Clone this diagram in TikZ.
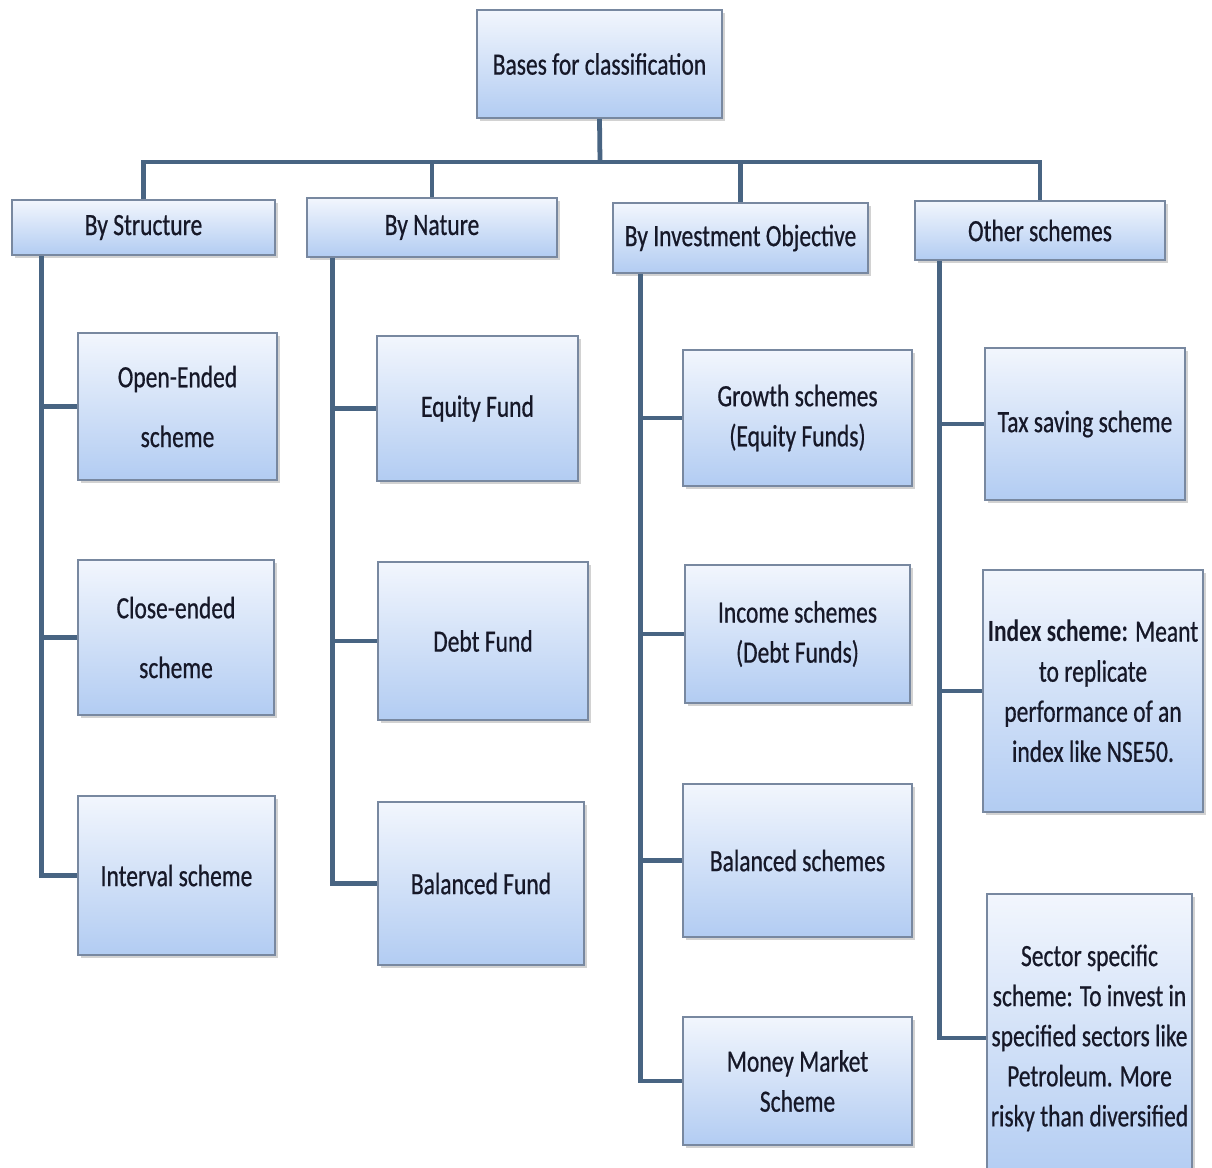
\documentclass[tikz,border=0pt]{standalone}
\usepackage{fontspec}
\setmainfont{Carlito}[FakeStretch=0.76, UprightFeatures={FakeBold=0.6}]
\usepackage{tikz}
\usetikzlibrary{shadows}
\definecolor{slateline}{RGB}{72, 100, 130}
\definecolor{boxedge}{RGB}{120, 136, 160}
\definecolor{boxtop}{RGB}{242, 246, 253}
\definecolor{boxbottom}{RGB}{178, 204, 242}
\definecolor{inkdark}{RGB}{22, 24, 40}

\begin{document}
\begin{tikzpicture}[x=0.025cm, y=-0.025cm,
    box/.style={draw=boxedge, line width=1.2pt, top color=boxtop, bottom color=boxbottom,
                drop shadow={opacity=0.35, shadow xshift=2pt, shadow yshift=-2pt},
                inner sep=0pt, align=center, text=inkdark,
                font=\fontsize{22}{28.5}\selectfont},
    link/.style={draw=slateline, line width=3.4pt}]
            % Frame to fix the page
            \useasboundingbox[fill=white] (0,0) rectangle (1212,1167);
            % Root
            \node[box, minimum width=6.125cm, minimum height=2.7cm] (root) at (599.5,64) {Bases for classification};
            % Headers
            \node[box, minimum width=6.575cm, minimum height=1.375cm] (struct) at (143.5,227.5) {By Structure};
            \node[box, minimum width=6.25cm,  minimum height=1.475cm] (nature) at (432,227.5)   {By Nature};
            \node[box, minimum width=6.375cm, minimum height=1.75cm]  (objective) at (740.5,238) {By Investment Objective};
            \node[box, minimum width=6.25cm,  minimum height=1.475cm] (other) at (1040,230.5)  {Other schemes};
            % By Structure
            \node[box, minimum width=4.975cm, minimum height=3.675cm] (open)     at (177.5,406.5) {Open-Ended\\[14pt]scheme};
            \node[box, minimum width=4.9cm,   minimum height=3.875cm] (close)    at (176,637.5)   {Close-ended\\[14pt]scheme};
            \node[box, minimum width=4.925cm, minimum height=3.975cm] (interval) at (176.5,875.5) {Interval scheme};
            % By Nature
            \node[box, minimum width=5.025cm, minimum height=3.625cm] (equity)   at (477.5,408.5) {Equity Fund};
            \node[box, minimum width=5.25cm,  minimum height=3.95cm]  (debt)     at (483,641)     {Debt Fund};
            \node[box, minimum width=5.15cm,  minimum height=4.075cm] (balanced) at (481,883.5)   {Balanced Fund};
            % By Investment Objective
            \node[box, minimum width=5.725cm, minimum height=3.4cm]   (growth) at (797.5,418)    {Growth schemes\\(Equity Funds)};
            \node[box, minimum width=5.625cm, minimum height=3.45cm]  (income) at (797.5,634)    {Income schemes\\(Debt Funds)};
            \node[box, minimum width=5.725cm, minimum height=3.825cm] (balsch) at (797.5,860.5)  {Balanced schemes};
            \node[box, minimum width=5.725cm, minimum height=3.2cm]   (money)  at (797.5,1081)   {Money Market\\Scheme};
            % Other schemes
            \node[box, minimum width=5.0cm,   minimum height=3.8cm]   (tax)    at (1085,424)     {Tax saving scheme};
            \node[box, minimum width=5.5cm,   minimum height=6.05cm]  (index)  at (1093,691)     {\textbf{Index scheme:} Meant\\to replicate\\performance of an\\index like NSE50.};
            \node[box, minimum width=5.125cm, minimum height=7.2cm]   (sector) at (1089.5,1038)
                {Sector specific\\scheme: To invest in\\specified sectors like\\Petroleum. More\\risky than diversified};
            % Bus under the root
            \coordinate (bus) at (600,162);
            \draw[link] (root.south) -- (bus);
            \draw[link] (struct.north) |- (bus) -| (other.north);
            \draw[link] (nature.north) -- (nature.north |- bus);
            \draw[link] (objective.north) -- (objective.north |- bus);
            % Spines
            \coordinate (s1) at ([xshift=0.75cm]struct.south west);
            \coordinate (s2) at ([xshift=0.65cm]nature.south west);
            \coordinate (s3) at ([xshift=0.7cm]objective.south west);
            \coordinate (s4) at ([xshift=0.625cm]other.south west);
            \draw[link] (s1) |- (interval.west);
            \draw[link] (s1 |- open.west) -- (open.west);
            \draw[link] (s1 |- close.west) -- (close.west);
            \draw[link] (s2) |- (balanced.west);
            \draw[link] (s2 |- equity.west) -- (equity.west);
            \draw[link] (s2 |- debt.west) -- (debt.west);
            \draw[link] (s3) |- (money.west);
            \draw[link] (s3 |- growth.west) -- (growth.west);
            \draw[link] (s3 |- income.west) -- (income.west);
            \draw[link] (s3 |- balsch.west) -- (balsch.west);
            \draw[link] (s4) |- (sector.west);
            \draw[link] (s4 |- tax.west) -- (tax.west);
            \draw[link] (s4 |- index.west) -- (index.west);
\end{tikzpicture}
\end{document}
